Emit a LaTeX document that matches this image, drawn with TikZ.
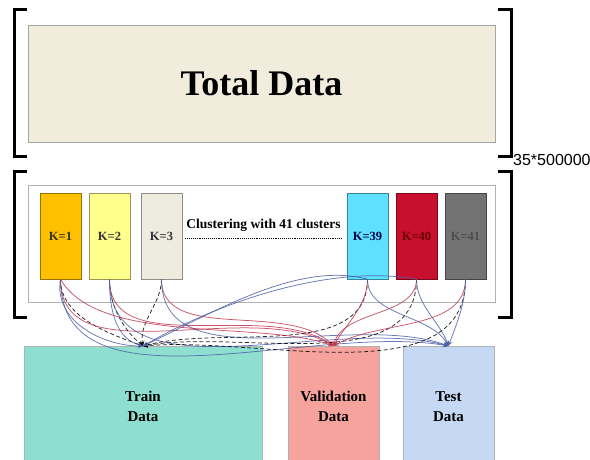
\documentclass[tikz,border=0pt]{standalone}
\usepackage{fontspec}
\setmainfont{Liberation Serif}
\newfontfamily\sizefont{Liberation Sans}
\usepackage{tikz}
\usetikzlibrary{arrows.meta,positioning}

\definecolor{totalfill}{HTML}{F1ECDC}
\definecolor{trainfill}{HTML}{8EDFCF}
\definecolor{valfill}{HTML}{F6A29D}
\definecolor{testfill}{HTML}{C6D9F4}
\definecolor{linkblue}{HTML}{4C5FA6}
\definecolor{linkred}{HTML}{C23650}
\definecolor{kone}{HTML}{FFC000}
\definecolor{ktwo}{HTML}{FFFF8C}
\definecolor{kthree}{HTML}{EEEBDF}
\definecolor{kcyan}{HTML}{5FE0FF}
\definecolor{kred}{HTML}{C8102E}
\definecolor{kgray}{HTML}{737373}

\begin{document}
\begin{tikzpicture}[
  x=1pt, y=1pt,
  font=\bfseries,
  box/.style={draw=gray!70, line width=0.8pt},
  clus/.style={draw=#1!60!black, fill=#1, minimum width=41pt,
               minimum height=86pt, inner sep=0pt, font=\fontsize{12.5}{14}\bfseries},
  part/.style={box, anchor=north, minimum height=120pt, align=center,
               font=\fontsize{15}{20}\bfseries},
  brk/.style={line width=3pt},
  arr/.style={-{Stealth[length=5pt,width=4.5pt]}, line width=0.75pt, opacity=0.85},
  totrain/.style={arr, dash pattern=on 4pt off 2.5pt, black},
  toval/.style={arr, linkred},
  totest/.style={arr, linkblue}
]
\useasboundingbox (0,0) rectangle (590,460);

% brackets round the two blocks
\draw[brk] (27,450) -- (14,450) -- (14,303) -- (27,303);
\draw[brk] (498,450) -- (511,450) -- (511,303) -- (498,303);
\draw[brk] (27,288) -- (14,288) -- (14,142) -- (27,142);
\draw[brk] (498,288) -- (511,288) -- (511,142) -- (498,142);
\node[font=\sizefont\fontsize{16}{18}\selectfont, anchor=west, inner sep=0pt]
  (size) at (513,300) {35*500000};

% whole data set
\node[box, fill=totalfill, minimum width=467pt, minimum height=117pt]
  (total) at (261.5,376.5) {\fontsize{36}{40}\selectfont Total Data};

% clusters
\node[box, draw=gray!60, minimum width=467pt, minimum height=117pt]
  (frame) at (261.5,216.5) {};
\node[clus=kone, text=black!80] (k1) at (60.5,224) {K=1};
\node[clus=ktwo, text=black!80] (k2) at (109.5,224) {K=2};
\node[clus=kthree, text=black!80] (k3) at (161.5,224) {K=3};
\node[clus=kcyan, text=blue!30!black] (k39) at (367.5,224) {K=39};
\node[clus=kred, text=red!40!black] (k40) at (416.5,224) {K=40};
\node[clus=kgray, text=black!70] (k41) at (465.5,224) {K=41};
\node[font=\fontsize{13.5}{15}\bfseries, inner sep=1pt] (clusters) at (263.5,235)
  {Clustering with 41 clusters};
\draw[densely dotted, line width=0.9pt] ([yshift=-6pt]clusters.south west)
  -- ([yshift=-6pt]clusters.south east);

% train / validation / test
\node[part, fill=trainfill, draw=gray!60, minimum width=238pt] (train) at (143,114)
  {Train\\Data};
\node[part, fill=valfill, draw=gray!60, minimum width=91pt] (val) at (333.5,114)
  {Validation\\Data};
\node[part, fill=testfill, draw=gray!60, minimum width=91pt] (test) at (448.5,114)
  {Test\\Data};

% every cluster is split three ways
\foreach \k/\ia/\ib/\ic in {k1/160/150/170, k2/140/145/165, k3/100/135/160,
                            k39/15/60/120, k40/10/75/110, k41/5/30/70}
{
  \draw[totrain] (\k.south) to[out=-90, in=\ia, looseness=0.9] (train.north);
  \draw[toval] (\k.south) to[out=-90, in=\ib, looseness=0.9] (val.north);
  \draw[totest] (\k.south) to[out=-90, in=\ic, looseness=0.9] (test.north);
}
\draw[totest] (k1.south) to[out=-100, in=180] (train.north);
\draw[totest] (k2.south) to[out=-90, in=165] (train.north);
\draw[totest] (k39.south) to[out=165, in=25, looseness=0.8] (train.north);
\draw[totest] (k40.south) to[out=170, in=30, looseness=0.8] (train.north);
\draw[toval] (k1.south) to[out=-60, in=160, looseness=0.7] (val.north);
\end{tikzpicture}
\end{document}
